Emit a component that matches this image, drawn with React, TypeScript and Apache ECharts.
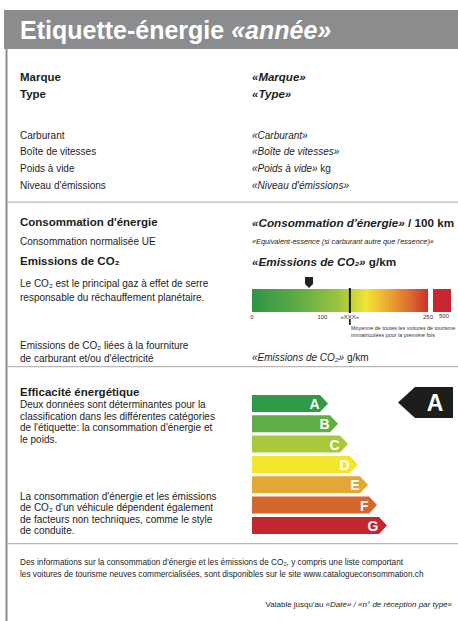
import React, { useEffect, useRef } from "react";
import * as echarts from "echarts";

const FONT = '"Liberation Sans", Arial, Helvetica, sans-serif';
const INK = "#1d1d1b";

// ---- data ----
const energyClasses = ["A", "B", "C", "D", "E", "F", "G"];
const classBarLengths = [76, 86, 96, 106, 116, 125, 135];
const classColors = ["#2f9a48", "#5fae46", "#a8c93b", "#f3e62c", "#e3a735", "#d4672c", "#c3262f"];
const vehicleClass = "A";

const co2ScaleTicks = [0, 100, 250];
const co2ScaleMax = 250;
const co2Average = 139;
const co2AverageLabel = "«XXX»";
const co2Vehicle = 81;
const co2OverflowLabel = "500";

const identityFields = ["Marque", "Type"];
const identityValues = ["«Marque»", "«Type»"];
const vehicleFields = ["Carburant", "Boîte de vitesses", "Poids à vide", "Niveau d'émissions"];
const vehicleValues = ["{i|«Carburant»}", "{i|«Boîte de vitesses»}", "{i|«Poids à vide»} kg", "{i|«Niveau d'émissions»}"];

const efficiencyText1 = [
  "Deux données sont déterminantes pour la",
  "classification dans les différentes catégories",
  "de l'étiquette: la consommation d'énergie et",
  "le poids.",
];
const efficiencyText2 = [
  "La consommation d'énergie et les émissions",
  "de CO₂ d'un véhicule dépendent également",
  "de facteurs non techniques, comme le style",
  "de conduite.",
];
const footerLines = [
  "Des informations sur la consommation d'énergie et les émissions de CO₂, y compris une liste comportant",
  "les voitures de tourisme neuves commercialisées, sont disponibles sur le site www.catalogueconsommation.ch",
];

const f = (size: number, weight = "normal", style = "normal", fill = INK) => ({
  fontSize: size,
  fontWeight: weight,
  fontStyle: style,
  fontFamily: FONT,
  fill,
});

function txt(x: number, y: number, text: string, size: number, weight = "normal", style = "normal", extra: any = {}) {
  const base = f(size, weight, style, extra.fill || INK);
  return {
    type: "text",
    x,
    y,
    silent: true,
    style: {
      text,
      ...base,
      textAlign: extra.align || "left",
      textVerticalAlign: "middle",
      rich: {
        i: f(size, weight, "italic", extra.fill || INK),
        bi: f(size, "bold", "italic", extra.fill || INK),
        b: f(size, "bold", "normal", extra.fill || INK),
      },
    },
  };
}

export default function App() {
  const ref = useRef<HTMLDivElement>(null);
  useEffect(() => {
    if (!ref.current) return;
    const chart = echarts.init(ref.current, undefined, { renderer: "svg" });

    const graphics: any[] = [
      { type: "rect", shape: { x: 4, y: 10, width: 454, height: 39 }, style: { fill: "#8b8c8e" }, silent: true },
      { type: "rect", shape: { x: 5.5, y: 49, width: 2, height: 572 }, style: { fill: "#8b8c8e" }, silent: true },
      { type: "rect", shape: { x: 7, y: 201.5, width: 451, height: 1.2 }, style: { fill: "#b8b8b8" }, silent: true },
      { type: "rect", shape: { x: 7, y: 366, width: 451, height: 1.2 }, style: { fill: "#b8b8b8" }, silent: true },
      { type: "rect", shape: { x: 7, y: 543, width: 451, height: 1.2 }, style: { fill: "#b8b8b8" }, silent: true },
      txt(20, 30, "Etiquette-énergie {bi|«année»}", 25, "bold", "normal", { fill: "#ffffff" }),
    ];
    identityFields.forEach((t, k) => {
      graphics.push(txt(20, 77 + k * 17, t, 11.5, "bold"));
      graphics.push(txt(252, 77 + k * 17, identityValues[k], 11.5, "bold", "italic"));
    });
    const vy = [135, 151, 168, 185];
    vehicleFields.forEach((t, k) => {
      graphics.push(txt(20, vy[k], t, 10));
      graphics.push(txt(252, vy[k], vehicleValues[k], 10));
    });
    graphics.push(
      txt(20, 222, "Consommation d'énergie", 11.5, "bold"),
      txt(252, 222, "{bi|«Consommation d'énergie»} / 100 km", 11.7, "bold"),
      txt(20, 241, "Consommation normalisée UE", 10),
      txt(252, 241, "«Equivalent-essence (si carburant autre que l'essence)»", 7.3, "normal", "italic"),
      txt(20, 261, "Emissions de CO₂", 11.5, "bold"),
      txt(252, 261, "{bi|«Emissions de CO₂»} g/km", 11.7, "bold"),
      txt(20, 283, "Le CO₂ est le principal gaz à effet de serre", 10),
      txt(20, 297, "responsable du réchauffement planétaire.", 10),
      txt(20, 345, "Emissions de CO₂ liées à la fourniture", 10),
      txt(20, 358, "de carburant et/ou d'électricité", 10),
      txt(252, 357, "{i|«Emissions de CO₂»} g/km", 10),
      txt(351, 328, "Moyenne de toutes les voitures de tourisme", 5.4, "normal", "normal", { fill: "#333" }),
      txt(351, 334.5, "immatriculées pour la première fois", 5.4, "normal", "normal", { fill: "#333" }),
      { type: "rect", shape: { x: 433, y: 289, width: 18, height: 23 }, style: { fill: "#c8272f" }, silent: true },
      txt(444, 316, co2OverflowLabel, 6, "normal", "normal", { fill: "#333", align: "center" }),
      txt(20, 392, "Efficacité énergétique", 11.5, "bold")
    );
    efficiencyText1.forEach((t, k) => graphics.push(txt(20, 404.5 + k * 11.7, t, 10)));
    efficiencyText2.forEach((t, k) => graphics.push(txt(20, 496 + k * 11.6, t, 10)));
    footerLines.forEach((t, k) => graphics.push(txt(20, 562 + k * 12, t, 8.25)));
    graphics.push(txt(452, 604, "Valable jusqu'au {i|«Date» / «n° de réception par type»}", 8, "normal", "normal", { align: "right" }));

    const option: any = {
      animation: false,
      backgroundColor: "#ffffff",
      grid: [
        { left: 252, top: 289, width: 176, height: 23 },
        { left: 252, top: 393.3, width: 206, height: 142.3 },
      ],
      xAxis: [
        {
          gridIndex: 0,
          type: "value",
          min: 0,
          max: co2ScaleMax,
          axisLine: { show: false },
          axisTick: { show: false },
          splitLine: { show: false },
          axisLabel: {
            customValues: [...co2ScaleTicks, co2Average],
            formatter: (v: number) => (v === co2Average ? co2AverageLabel : String(v)),
            fontSize: 6,
            fontFamily: FONT,
            color: "#333",
            margin: 1.5,
          },
        },
        { gridIndex: 1, type: "value", min: 0, max: 206, show: false },
      ],
      yAxis: [
        { gridIndex: 0, type: "category", data: ["CO₂"], show: false },
        { gridIndex: 1, type: "category", data: energyClasses, inverse: true, show: false },
      ],
      series: [
        {
          type: "custom",
          xAxisIndex: 0,
          yAxisIndex: 0,
          data: [[0, co2ScaleMax, 0]],
          encode: { x: [0, 1], y: 2 },
          renderItem: (params: any, api: any) => {
            const cs = params.coordSys;
            const x0 = api.coord([api.value(0), 0])[0];
            const x1 = api.coord([api.value(1), 0])[0];
            return {
              type: "rect",
              shape: { x: x0, y: cs.y, width: x1 - x0, height: cs.height },
              style: {
                fill: new echarts.graphic.LinearGradient(0, 0, 1, 0, [
                  { offset: 0, color: "#2e9547" },
                  { offset: 0.28, color: "#62ad45" },
                  { offset: 0.5, color: "#9dc53e" },
                  { offset: 0.57, color: "#c2d43a" },
                  { offset: 0.65, color: "#f2e435" },
                  { offset: 0.78, color: "#eba536" },
                  { offset: 0.9, color: "#dc6a2f" },
                  { offset: 1, color: "#c9312e" },
                ]),
              },
            };
          },
        },
        {
          type: "custom",
          xAxisIndex: 0,
          yAxisIndex: 0,
          data: [[co2Average, 0]],
          encode: { x: 0, y: 1 },
          renderItem: (params: any, api: any) => {
            const cs = params.coordSys;
            const x = api.coord([api.value(0), 0])[0];
            return {
              type: "group",
              children: [
                { type: "line", shape: { x1: x, y1: cs.y - 1, x2: x, y2: cs.y + cs.height + 1 }, style: { stroke: "#111", lineWidth: 2 } },
                { type: "line", shape: { x1: x, y1: cs.y + cs.height + 7, x2: x, y2: cs.y + cs.height + 13 }, style: { stroke: "#111", lineWidth: 1.6 } },
              ],
            };
          },
        },
        {
          type: "custom",
          xAxisIndex: 0,
          yAxisIndex: 0,
          data: [[co2Vehicle, 0]],
          encode: { x: 0, y: 1 },
          renderItem: (params: any, api: any) => {
            const cs = params.coordSys;
            const x = api.coord([api.value(0), 0])[0];
            const t = cs.y - 12;
            return {
              type: "polygon",
              shape: { points: [[x - 4, t], [x + 4, t], [x + 4, t + 7], [x, t + 11], [x - 4, t + 7]] },
              style: { fill: "#222" },
            };
          },
        },
        {
          type: "custom",
          xAxisIndex: 1,
          yAxisIndex: 1,
          data: classBarLengths.map((v, i) => [v, i]),
          encode: { x: 0, y: 1 },
          renderItem: (params: any, api: any) => {
            const idx = params.dataIndex;
            const [xs, yc] = api.coord([0, idx]);
            const xe = api.coord([api.value(0), idx])[0];
            const h = 17;
            const tip = 8;
            return {
              type: "group",
              children: [
                {
                  type: "polygon",
                  shape: { points: [[xs, yc - h / 2], [xe - tip, yc - h / 2], [xe, yc], [xe - tip, yc + h / 2], [xs, yc + h / 2]] },
                  style: { fill: classColors[idx] },
                },
                {
                  type: "text",
                  style: {
                    text: energyClasses[idx],
                    x: xe - tip - 0.5,
                    y: yc + 0.5,
                    textAlign: "right",
                    textVerticalAlign: "middle",
                    fill: "#ffffff",
                    font: `bold 14px ${FONT}`,
                  },
                },
              ],
            };
          },
        },
        {
          type: "custom",
          xAxisIndex: 1,
          yAxisIndex: 1,
          data: [[0, energyClasses.indexOf(vehicleClass)]],
          encode: { x: 0, y: 1 },
          renderItem: (params: any, api: any) => {
            const cs = params.coordSys;
            const yc = api.coord([0, api.value(1)])[1] - 1;
            const right = cs.x + cs.width - 5;
            const bodyLeft = right - 38;
            const tipX = bodyLeft - 17;
            const hh = 15.5;
            return {
              type: "group",
              children: [
                {
                  type: "polygon",
                  shape: { points: [[tipX, yc], [bodyLeft, yc - hh], [right, yc - hh], [right, yc + hh], [bodyLeft, yc + hh]] },
                  style: { fill: "#1d1d1b" },
                },
                {
                  type: "text",
                  style: {
                    text: vehicleClass,
                    x: (bodyLeft + right) / 2 + 1,
                    y: yc + 1,
                    textAlign: "center",
                    textVerticalAlign: "middle",
                    fill: "#ffffff",
                    font: `bold 23px ${FONT}`,
                  },
                },
              ],
            };
          },
        },
      ],
      graphic: graphics,
    };
    chart.setOption(option);
    return () => chart.dispose();
  }, []);
  return (
    <div
      ref={ref}
      style={{ position: "fixed", left: 0, top: 0, width: 458, height: 621, background: "#fff" }}
    />
  );
}
